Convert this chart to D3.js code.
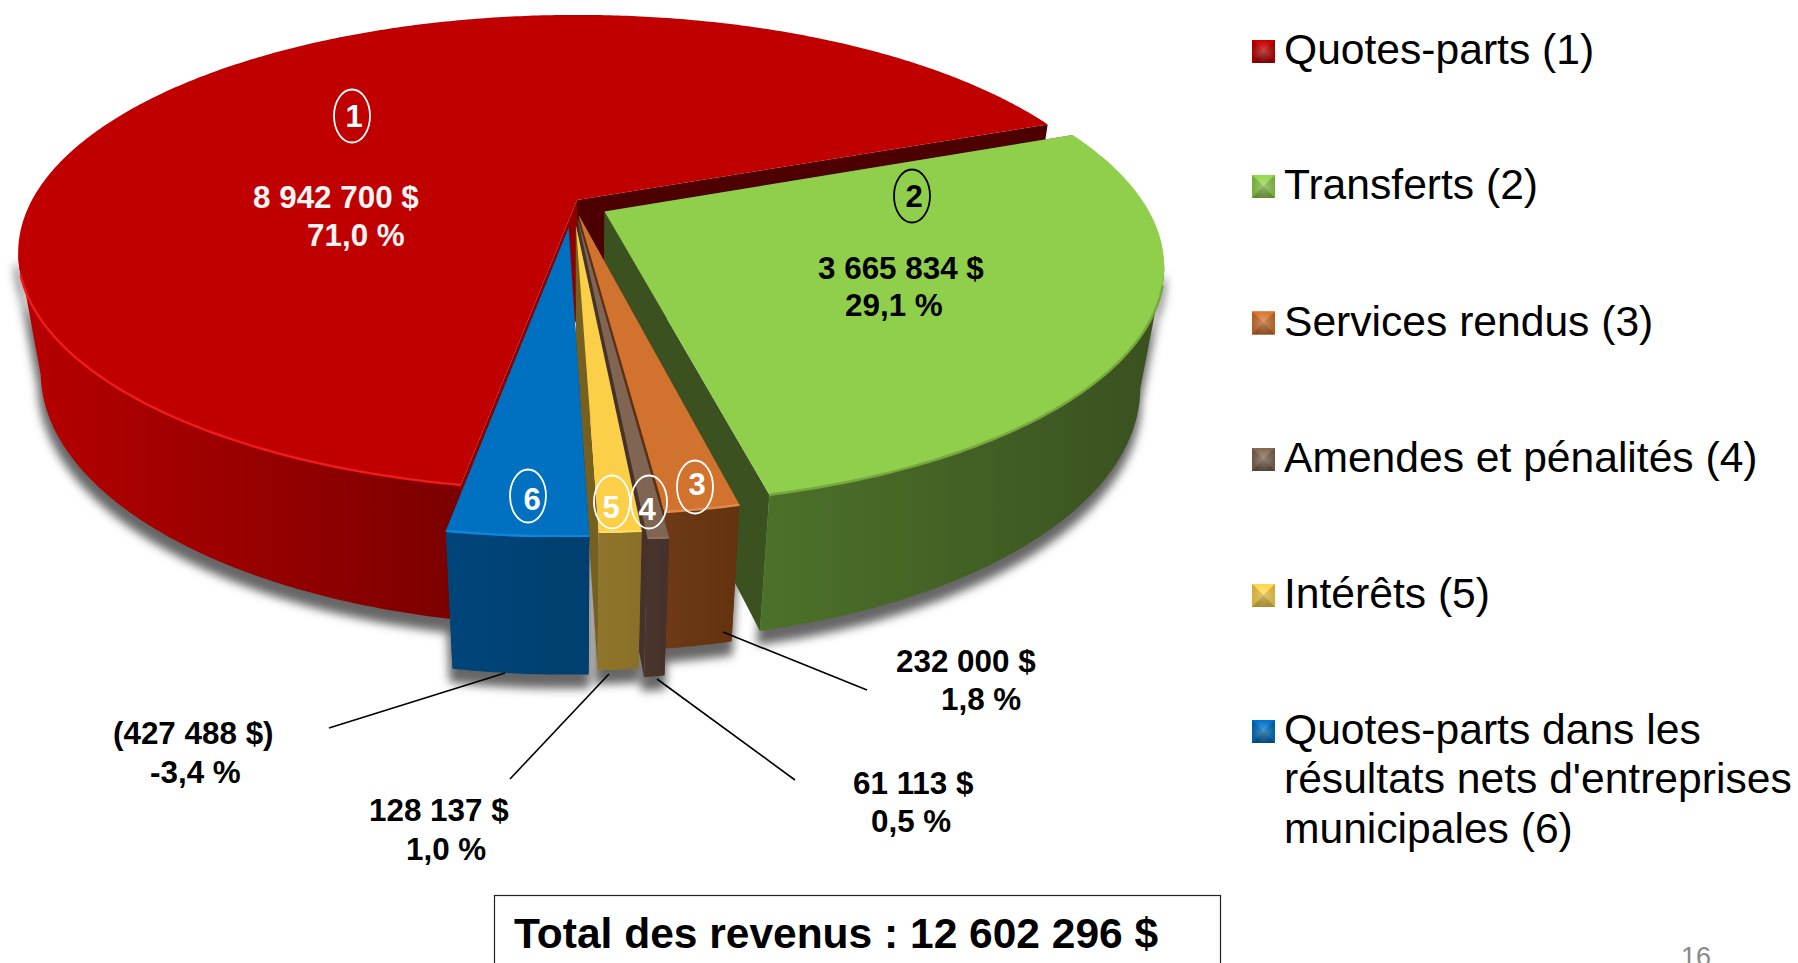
<!DOCTYPE html>
<html>
<head>
<meta charset="utf-8">
<script src="https://cdn.jsdelivr.net/npm/d3@7"></script>
<style>
  html, body { margin: 0; padding: 0; background: #fff; overflow: hidden; }
  text { font-family: "Liberation Sans", Arial, sans-serif; }
</style>
</head>
<body>
<div id="chart"></div>
<script>
// data
var legendLines = [
  ["Quotes-parts (1)"],
  ["Transferts (2)"],
  ["Services rendus (3)"],
  ["Amendes et pénalités (4)"],
  ["Intérêts (5)"],
  ["Quotes-parts dans les", "résultats nets d'entreprises", "municipales (6)"]
];
var amounts = [8942700, 3665834, 232000, 61113, 128137, -427488];
var amountLabels = ["8 942 700 $", "3 665 834 $", "232 000 $", "61 113 $", "128 137 $", "(427 488 $)"];
var percentLabels = ["71,0 %", "29,1 %", "1,8 %", "0,5 %", "1,0 %", "-3,4 %"];
var totalLabel = "Total des revenus : 12 602 296 $";
var pageNumber = "16";

// colours per slice
var topColors  = ["#c00000", "#8fcf4c", "#d2722f", "#806553", "#fbcf48", "#0070c0"];
var rimColors  = ["#ee1a1a", "#76a83e", "#de8a4a", "#8d7261", "#ffdc60", "#0f86da"];
var sideLeft   = ["#b40000", "#4c7129", "#6e3a18", "#4a352c", "#8f752b", "#00457a"];
var sideRight  = ["#7a0000", "#3b5220", "#65330f", "#46322a", "#8a6f28", "#003f6f"];
var wallColors = ["#4d0000", "#3b5220", "#5c2e12", "#46322a", "#75601f", "#003f6f"];
var lowWall0   = "#8e0000"; // the cut face of slice 1 next to slice 6

// layout
var width = 1798, height = 963;
var cx = 577, cy = 200, R = 545, A = 226, D = 123, persp = 0.221, drop = 0.04;
var startDeg = 189.6;
var explodeU = [0, 0.05, 0.003, 0.001, -0.002, -0.015];
var explodeV = [0, 0.05, 0.065, 0.08, 0.11, 0.12];
var radiusK  = [1, 0.988, 1, 1.05, 1, 1];

var svg = d3.select("#chart").append("svg")
    .attr("width", width)
    .attr("height", height);
var defs = svg.append("defs");

defs.append("filter").attr("id", "blurShadow")
    .attr("x", "-10%").attr("y", "-10%").attr("width", "120%").attr("height", "120%")
  .append("feGaussianBlur").attr("stdDeviation", 5);
defs.append("filter").attr("id", "blurRim")
  .append("feGaussianBlur").attr("stdDeviation", 0.7);

var glow = defs.append("radialGradient").attr("id", "glow");
glow.append("stop").attr("offset", 0).attr("stop-color", "#fff").attr("stop-opacity", 0.28);
glow.append("stop").attr("offset", 1).attr("stop-color", "#fff").attr("stop-opacity", 0);

function project(u, v, z) {
  var k = 1 / (1 - persp * v + drop * z);
  return [cx + R * u * k, cy + A * v * k + D * z * k];
}

var pie = d3.pie()
    .sort(null)
    .value(function(d) { return Math.abs(d); })
    .startAngle(startDeg * Math.PI / 180)
    .endAngle((startDeg + 360) * Math.PI / 180);
var slices = pie(amounts);

function ringPoint(i, a, z) {
  var r = radiusK[i];
  return project(explodeU[i] + r * Math.sin(a), explodeV[i] - r * Math.cos(a), z);
}
function apex(i, z) {
  return project(explodeU[i], explodeV[i], z);
}
function arcAngles(d) {
  var n = Math.max(4, Math.ceil((d.endAngle - d.startAngle) / 0.01));
  return d3.range(n + 1).map(function(j) {
    return d.startAngle + (d.endAngle - d.startAngle) * j / n;
  });
}

var line = d3.line();
function closed(pts) { return line(pts) + "Z"; }

function topPath(d, i) {
  var pts = arcAngles(d).map(function(a) { return ringPoint(i, a, 0); });
  return closed([apex(i, 0)].concat(pts));
}
// only the part in front of the silhouette, the back part would cancel out when filled
function outerPath(d, i) {
  var as = arcAngles(d).filter(function(a) { return -Math.cos(a) >= persp; });
  var upper = as.map(function(a) { return ringPoint(i, a, 0); });
  var lower = as.slice().reverse().map(function(a) { return ringPoint(i, a, 1); });
  return closed(upper.concat(lower));
}
function wallPath(d, i, a) {
  return closed([apex(i, 0), ringPoint(i, a, 0), ringPoint(i, a, 1), apex(i, 1)]);
}

// soft shadow under the whole thing
var shadow = svg.append("g")
    .attr("transform", "translate(-1,12)")
    .attr("filter", "url(#blurShadow)");
slices.forEach(function(d, i) {
  shadow.append("path").attr("d", outerPath(d, i))
      .attr("fill", "#666").attr("stroke", "#666").attr("stroke-width", 4);
});

// back to front: 1, 2, 3, 4, 5, 6
[0, 1, 2, 3, 4, 5].forEach(function(i) {
  var d = slices[i];
  var g = svg.append("g");

  var xs = d3.extent(arcAngles(d), function(a) { return ringPoint(i, a, 1)[0]; });
  var grad = defs.append("linearGradient")
      .attr("id", "side" + i)
      .attr("gradientUnits", "userSpaceOnUse")
      .attr("x1", xs[0]).attr("y1", 0)
      .attr("x2", i == 0 ? 470 : xs[1]).attr("y2", 0);
  grad.append("stop").attr("offset", 0).attr("stop-color", sideLeft[i]);
  grad.append("stop").attr("offset", 1).attr("stop-color", sideRight[i]);

  g.append("path").attr("d", wallPath(d, i, d.startAngle))
      .attr("fill", i == 0 ? lowWall0 : wallColors[i]);
  g.append("path").attr("d", wallPath(d, i, d.endAngle)).attr("fill", wallColors[i]);
  g.append("path").attr("d", outerPath(d, i)).attr("fill", "url(#side" + i + ")");
  g.append("path").attr("d", topPath(d, i)).attr("fill", topColors[i]);

  // lighter edge on the front part of the rim
  var rim = arcAngles(d).filter(function(a) { return -Math.cos(a) > 0.3; })
      .map(function(a) { return ringPoint(i, a, 0); });
  g.append("path")
      .attr("d", line(rim))
      .attr("fill", "none")
      .attr("stroke", rimColors[i])
      .attr("stroke-width", 2.5)
      .attr("filter", "url(#blurRim)");
});

// labels on and around the pie
var valueX   = [253, 818, 896, 853, 369, 113];
var valueY   = [208, 279, 672, 794, 821, 744];
var pctX     = [307, 845, 941, 871, 406, 150];
var pctY     = [246, 316, 710, 832, 860, 783];
var fontLabel = 31.4;
slices.forEach(function(d, i) {
  var fill = i == 0 ? "#f4f4f4" : "#000";
  svg.append("text").attr("x", valueX[i]).attr("y", valueY[i])
      .attr("font-size", fontLabel).attr("font-weight", "bold").attr("fill", fill)
      .text(amountLabels[i]);
  svg.append("text").attr("x", pctX[i]).attr("y", pctY[i])
      .attr("font-size", fontLabel).attr("font-weight", "bold").attr("fill", fill)
      .text(percentLabels[i]);
});

// leader lines for the small slices
var leaderFrom = [null, null, [723, 632], [657, 679], [609, 674], [505, 673]];
var leaderTo   = [null, null, [867, 690], [795, 780], [510, 779], [329, 728]];
leaderFrom.forEach(function(p, i) {
  if (!p) return;
  svg.append("line")
      .attr("x1", p[0]).attr("y1", p[1])
      .attr("x2", leaderTo[i][0]).attr("y2", leaderTo[i][1])
      .attr("stroke", "#000").attr("stroke-width", 1.6);
});

// circled numbers
var badgeX = [352, 912, 695, 649, 612, 528];
var badgeY = [116, 196, 487, 502, 502, 496];
var digitDx = [2, 2, 2, -2, -1, 4];
var digitDy = [11, 11, 8, 18, 16, 14];
var badgeColor = ["#fff", "#000", "#fff", "#fff", "#fff", "#fff"];
badgeX.forEach(function(x, i) {
  svg.append("ellipse")
      .attr("cx", x).attr("cy", badgeY[i])
      .attr("rx", 18).attr("ry", 26.5)
      .attr("fill", "none")
      .attr("stroke", badgeColor[i]).attr("stroke-width", 1.8);
  svg.append("text")
      .attr("x", x + digitDx[i]).attr("y", badgeY[i] + digitDy[i])
      .attr("text-anchor", "middle")
      .attr("font-size", 31).attr("font-weight", "bold")
      .attr("fill", badgeColor[i])
      .text(i + 1);
});

// legend
var legendY = [64, 199, 335.5, 472, 608, 744];
var legend = svg.selectAll("g.legend")
    .data(legendLines)
    .enter().append("g")
      .attr("class", "legend")
      .attr("transform", function(d, i) { return "translate(1252," + legendY[i] + ")"; });

legend.each(function(d, i) {
  var g = d3.select(this);
  var s = 23, x0 = 0, y0 = -24, m = s / 2;
  var col = d3.color(topColors[i]);
  g.append("rect").attr("x", x0).attr("y", y0).attr("width", s).attr("height", s)
      .attr("fill", col.darker(0.5));
  var faces = [
    [[[x0, y0], [x0 + s, y0], [x0 + m, y0 + m]], col.brighter(0.1)],
    [[[x0, y0], [x0, y0 + s], [x0 + m, y0 + m]], col.darker(0.5)],
    [[[x0 + s, y0], [x0 + s, y0 + s], [x0 + m, y0 + m]], col.darker(0.5)],
    [[[x0, y0 + s], [x0 + s, y0 + s], [x0 + m, y0 + m]], col.darker(1.1)]
  ];
  faces.forEach(function(f) {
    g.append("path").attr("d", closed(f[0])).attr("fill", f[1]);
  });
  g.append("circle").attr("cx", x0 + m).attr("cy", y0 + m).attr("r", m)
      .attr("fill", "url(#glow)");
  d.forEach(function(txt, j) {
    g.append("text")
        .attr("x", 32).attr("y", j * 49.3)
        .attr("font-size", 42.6).attr("fill", "#000")
        .text(txt);
  });
});

// total box, runs off the bottom of the page
svg.append("rect")
    .attr("x", 494.5).attr("y", 895.5)
    .attr("width", 726).attr("height", 100)
    .attr("fill", "#fff").attr("stroke", "#222").attr("stroke-width", 1.2);
svg.append("text")
    .attr("x", 514).attr("y", 948)
    .attr("font-size", 42.5).attr("font-weight", "bold").attr("fill", "#000")
    .text(totalLabel);

svg.append("text")
    .attr("x", 1681).attr("y", 966)
    .attr("font-size", 27).attr("fill", "#898989")
    .text(pageNumber);
</script>
</body>
</html>
